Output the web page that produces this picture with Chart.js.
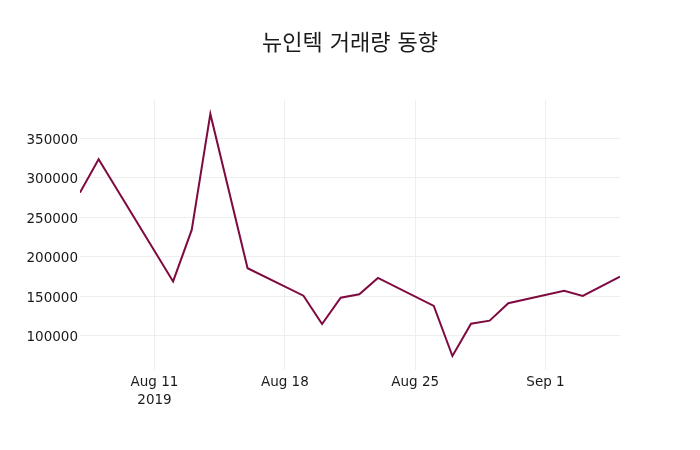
<!DOCTYPE html>
<html>
<head>
<meta charset="utf-8">
<script src="https://cdn.jsdelivr.net/npm/chart.js@4"></script>
<style>
    html, body { margin: 0; padding: 0; background: #fff; }
    #wrap { width: 700px; height: 450px; }
</style>
</head>
<body>
<div id="wrap"><canvas id="myChart" width="700" height="450"></canvas></div>
<script>
// 거래일 (Aug 15 광복절 휴장)
const dates = [
    '2019-08-07', '2019-08-08', '2019-08-12', '2019-08-13', '2019-08-14',
    '2019-08-16', '2019-08-19', '2019-08-20', '2019-08-21', '2019-08-22',
    '2019-08-23', '2019-08-26', '2019-08-27', '2019-08-28', '2019-08-29',
    '2019-08-30', '2019-09-02', '2019-09-03', '2019-09-05'
];
const volumes = [
    281400, 323700, 169000, 234200, 381000,
    185700, 151000, 115200, 148500, 152800,
    173400, 138000, 74700, 115600, 119400,
    141400, 157300, 150600, 175100
];
const xTickDates = ['2019-08-11', '2019-08-18', '2019-08-25', '2019-09-01'];
const xTickLabels = [['Aug 11', '2019'], 'Aug 18', 'Aug 25', 'Sep 1'];
const yTicks = [100000, 150000, 200000, 250000, 300000, 350000];

const DAY = 86400000;
const toDay = s => Date.parse(s + 'T00:00:00Z') / DAY;

const points = dates.map((d, i) => ({ x: toDay(d), y: volumes[i] }));
const xTickValues = xTickDates.map(toDay);

const fontFamily = "'DejaVu Sans', 'Noto Sans CJK KR', sans-serif";
const textColor = '#1a1a1a';

new Chart(document.getElementById('myChart'), {
    type: 'line',
    data: {
        datasets: [{
            label: '거래량',
            data: points,
            borderColor: '#7f0a40',
            borderWidth: 2,
            pointRadius: 0,
            tension: 0,
            fill: false
        }]
    },
    options: {
        responsive: false,
        animation: false,
        layout: { padding: 0 },
        plugins: {
            legend: { display: false },
            tooltip: { enabled: false },
            title: {
                display: true,
                text: '뉴인텍 거래량 동향',
                color: textColor,
                font: { family: fontFamily, size: 22, weight: 'normal', lineHeight: 1.2 },
                padding: { top: 31.5, bottom: 42 }
            }
        },
        scales: {
            x: {
                type: 'linear',
                min: toDay('2019-08-07'),
                max: toDay('2019-09-05'),
                afterBuildTicks: scale => {
                    scale.ticks = xTickValues.map(v => ({ value: v }));
                },
                afterFit: scale => { scale.height = 80; },
                border: { display: false },
                grid: { color: '#eee', drawTicks: false },
                ticks: {
                    color: textColor,
                    padding: 3,
                    maxRotation: 0,
                    font: { family: fontFamily, size: 13.5, lineHeight: 1.35 },
                    callback: value => {
                        const i = xTickValues.indexOf(value);
                        return i >= 0 ? xTickLabels[i] : '';
                    }
                }
            },
            y: {
                min: 56960,
                max: 398730,
                afterBuildTicks: scale => {
                    scale.ticks = yTicks.map(v => ({ value: v }));
                },
                afterFit: scale => { scale.width = 80; },
                border: { display: false },
                grid: { color: '#eee', drawTicks: false },
                ticks: {
                    color: textColor,
                    padding: 2,
                    labelOffset: 2,
                    font: { family: fontFamily, size: 13.5 },
                    callback: value => String(value)
                }
            },
            // 오른쪽 여백용 빈 축
            yRight: {
                position: 'right',
                min: 0,
                max: 1,
                afterFit: scale => { scale.width = 80; },
                border: { display: false },
                grid: { display: false },
                ticks: { display: false }
            }
        }
    }
});
</script>
</body>
</html>
